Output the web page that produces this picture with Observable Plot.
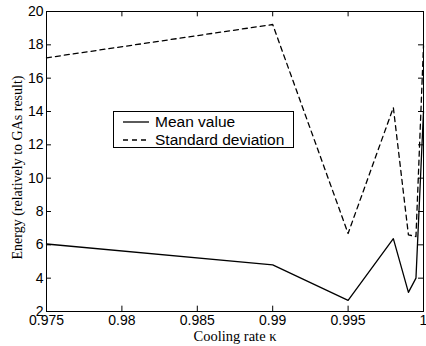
<!DOCTYPE html>
<html>
<head>
<meta charset="utf-8">
<script src="https://cdn.jsdelivr.net/npm/d3@7"></script>
<script src="https://cdn.jsdelivr.net/npm/@observablehq/plot@0.6"></script>
<style>
  html, body { margin: 0; padding: 0; background: #fff; }
  #wrap { position: relative; width: 426px; height: 346px; }
  #legend {
    position: absolute; left: 113px; top: 111px; width: 181px; height: 37px;
    border: 1px solid #000; background: #fff; box-sizing: border-box;
    font-family: "Liberation Sans", Arial, sans-serif; font-size: 15.5px; line-height: 15px;
  }
  .row { position: absolute; left: 9px; display: flex; align-items: center; }
  .row svg { margin-right: 6px; }
</style>
</head>
<body>
<div id="wrap"></div>
<script>
const coolingRate = [0.975, 0.99, 0.995, 0.998, 0.999, 0.9995, 1.0];
const meanValue   = [6.05, 4.8, 2.67, 6.37, 3.15, 4.0, 14.0];
const stdDev      = [17.22, 19.22, 6.68, 14.24, 6.6, 6.5, 17.95];
const xTicks = [0.975, 0.98, 0.985, 0.99, 0.995, 1];
const yTicks = [2, 4, 6, 8, 10, 12, 14, 16, 18, 20];
const seriesNames = ["Mean value", "Standard deviation"];

const meanData = coolingRate.map((x, i) => ({x, y: meanValue[i]}));
const stdData = coolingRate.map((x, i) => ({x, y: stdDev[i]}));

const sans = "'Liberation Sans', Arial, Helvetica, sans-serif";
const serif = "'Liberation Serif', 'Times New Roman', serif";
const tickLenY = 0.32;      // in y data units (~5px)
const tickLenX = 0.00033;   // in x data units (~5px)

const chart = Plot.plot({
  width: 426,
  height: 346,
  marginLeft: 46,
  marginRight: 3,
  marginTop: 11,
  marginBottom: 35,
  x: {domain: [0.975, 1]},
  y: {domain: [2, 20]},
  style: {fontFamily: sans, fontSize: "14px", background: "#fff", color: "#000"},
  marks: [
    Plot.frame({stroke: "#000", strokeWidth: 1}),
    Plot.ruleX(xTicks, {x: d => d, y1: 2, y2: 2 + tickLenY, stroke: "#000"}),
    Plot.ruleX(xTicks, {x: d => d, y1: 20, y2: 20 - tickLenY, stroke: "#000"}),
    Plot.ruleY(yTicks, {y: d => d, x1: 0.975, x2: 0.975 + tickLenX, stroke: "#000"}),
    Plot.ruleY(yTicks, {y: d => d, x1: 1, x2: 1 - tickLenX, stroke: "#000"}),
    Plot.axisX(xTicks, {anchor: "bottom", tickSize: 0, tickPadding: 4, label: null,
      tickFormat: d => String(d), fontSize: 14, fontFamily: sans}),
    Plot.axisY(yTicks, {anchor: "left", tickSize: 0, tickPadding: 3, label: null,
      tickFormat: d => String(d), fontSize: 14, fontFamily: sans}),
    Plot.line(meanData, {x: "x", y: "y", stroke: "#000", strokeWidth: 1.3}),
    Plot.line(stdData, {x: "x", y: "y", stroke: "#000", strokeWidth: 1.3, strokeDasharray: "5,4"}),
    Plot.text(["Cooling rate κ"], {frameAnchor: "bottom", text: d => d, dy: 25, lineAnchor: "middle",
      fontFamily: serif, fontSize: 14.5, fill: "#000"}),
    Plot.text(["Energy (relatively to GAs result)"], {frameAnchor: "left", textAnchor: "middle",
      text: d => d, rotate: -90, dx: -29, dy: 6, fontFamily: serif, fontSize: 14, fill: "#000"})
  ]
});
const wrap = document.getElementById("wrap");
wrap.appendChild(chart);

const legend = document.createElement("div");
legend.id = "legend";
seriesNames.forEach((name, i) => {
  const row = document.createElement("div");
  row.className = "row";
  row.style.top = (2 + i * 18) + "px";
  row.innerHTML = `<svg width="26" height="10"><line x1="0" x2="26" y1="5" y2="5" stroke="#000" stroke-width="1.3" ${i === 1 ? `stroke-dasharray="5,4"` : ""}/></svg><span>${name}</span>`;
  legend.appendChild(row);
});
wrap.appendChild(legend);
</script>
</body>
</html>
